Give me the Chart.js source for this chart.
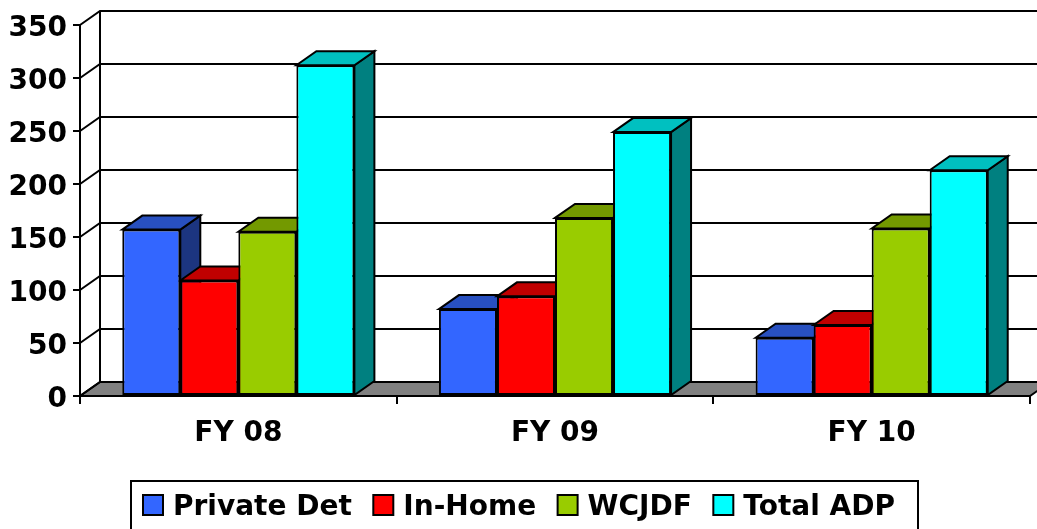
<!DOCTYPE html>
<html>
<head>
<meta charset="utf-8">
<script src="https://cdn.jsdelivr.net/npm/chart.js@4/dist/chart.umd.min.js"></script>
<style>
  html, body { margin: 0; padding: 0; background: #fff; }
  canvas { display: block; }
</style>
</head>
<body>
<canvas id="adp" width="1037" height="529"></canvas>
<script>
const categories = ["FY 08", "FY 09", "FY 10"]
const seriesNames = ["Private Det", "In-Home", "WCJDF", "Total ADP"]
const privateDet = [157, 82, 55]
const inHome = [109, 94, 67]
const wcjdf = [155, 168, 158]
const totalAdp = [312, 249, 213]
const yTicks = [0, 50, 100, 150, 200, 250, 300, 350]

// front / top / side shades for each series
const frontColors = ["#3366FF", "#FF0000", "#99CC00", "#00FFFF"]
const topColors = ["#2850C0", "#C00000", "#739900", "#00C0C0"]
const sideColors = ["#1C3580", "#800000", "#4D6600", "#008080"]

const FONT = "'DejaVu Sans', Verdana, sans-serif"
const depthX = 20
const depthY = 14

const poly = (ctx, pts, fill) => {
  ctx.beginPath()
  ctx.moveTo(pts[0][0], pts[0][1])
  pts.slice(1).forEach(([px, py]) => ctx.lineTo(px, py))
  ctx.closePath()
  if (fill) {
    ctx.fillStyle = fill
    ctx.fill()
  }
  ctx.stroke()
}

// walls, floor, gridlines and the top/side faces of each column
const box3d = {
  id: "box3d",
  beforeDatasetsDraw(chart) {
    const { ctx, chartArea: area } = chart
    const yScale = chart.scales.y
    const y0 = yScale.getPixelForValue(0)
    const yTop = yScale.getPixelForValue(yTicks[yTicks.length - 1])

    ctx.save()
    ctx.lineWidth = 2
    ctx.strokeStyle = "#000"

    poly(ctx, [
      [area.left, y0],
      [area.right, y0],
      [area.right + depthX, y0 - depthY],
      [area.left + depthX, y0 - depthY],
    ], "#808080")

    yTicks.forEach((v) => {
      const py = yScale.getPixelForValue(v)
      ctx.beginPath()
      ctx.moveTo(area.left, py)
      ctx.lineTo(area.left + depthX, py - depthY)
      if (v > 0) ctx.lineTo(chart.width + 5, py - depthY)
      ctx.stroke()
    })

    ctx.beginPath()
    ctx.moveTo(area.left + depthX, y0 - depthY)
    ctx.lineTo(area.left + depthX, yTop - depthY)
    ctx.stroke()

    categories.forEach((_, i) => {
      chart.data.datasets.forEach((ds, d) => {
        const bar = chart.getDatasetMeta(d).data[i]
        const { x, y, base, width } = bar.getProps(["x", "y", "base", "width"], true)
        const l = x - width / 2
        const r = x + width / 2
        poly(ctx, [
          [r, y],
          [r + depthX, y - depthY],
          [r + depthX, base - depthY],
          [r, base],
        ], sideColors[d])
        poly(ctx, [
          [l, y],
          [l + depthX, y - depthY],
          [r + depthX, y - depthY],
          [r, y],
        ], topColors[d])
      })
    })
    ctx.restore()
  },
}

// boxed legend under the axis, items spread across one row
const legendBox = {
  id: "legendBox",
  afterDraw(chart) {
    const { ctx } = chart
    const frame = { left: 131, top: 481, right: 918, bottom: 545 }
    const rowStart = 143
    const rowEnd = 895
    const swatch = 20
    const textGap = 10
    ctx.save()
    ctx.lineWidth = 2
    ctx.strokeStyle = "#000"
    ctx.strokeRect(frame.left, frame.top, frame.right - frame.left, frame.bottom - frame.top)

    ctx.font = `bold 28px ${FONT}`
    ctx.textBaseline = "alphabetic"
    ctx.textAlign = "left"
    const items = chart.data.datasets
    const widths = items.map((ds) => ctx.measureText(ds.label).width)
    const used = widths.reduce((a, b) => a + b, 0) + items.length * (swatch + textGap)
    const itemGap = (rowEnd - rowStart - used) / (items.length - 1)

    let x = rowStart
    items.forEach((ds, d) => {
      ctx.fillStyle = ds.backgroundColor
      ctx.fillRect(x, 495, swatch, swatch)
      ctx.strokeRect(x, 495, swatch, swatch)
      x += swatch + textGap
      ctx.fillStyle = "#000"
      ctx.fillText(ds.label, x, 515)
      x += widths[d] + itemGap
    })
    ctx.restore()
  },
}

const seriesValues = [privateDet, inHome, wcjdf, totalAdp]

new Chart(document.getElementById("adp"), {
  type: "bar",
  data: {
    labels: categories,
    datasets: seriesValues.map((values, d) => ({
      label: seriesNames[d],
      data: values,
      backgroundColor: frontColors[d],
      borderColor: "#000",
      borderWidth: 2,
      borderSkipped: false,
      categoryPercentage: 0.733,
      barPercentage: 1,
    })),
  },
  options: {
    responsive: false,
    animation: false,
    devicePixelRatio: 1,
    layout: { padding: { left: 0, top: 25, right: 7, bottom: 83 } },
    plugins: {
      legend: { display: false },
      tooltip: { enabled: false },
    },
    scales: {
      x: {
        grid: {
          offset: true,
          drawOnChartArea: false,
          tickLength: 8,
          color: "#000",
          lineWidth: 2,
        },
        border: { display: false },
        ticks: {
          color: "#000",
          font: { family: FONT, size: 28, weight: "bold" },
          padding: 13,
        },
        afterFit: (scale) => {
          scale.height = 50
        },
      },
      y: {
        min: 0,
        max: 350,
        grid: {
          drawOnChartArea: false,
          tickLength: 7,
          color: "#000",
          lineWidth: 2,
        },
        border: { display: true, color: "#000", width: 2 },
        ticks: {
          stepSize: 50,
          color: "#000",
          font: { family: FONT, size: 28, weight: "bold" },
          padding: 6,
          labelOffset: 4,
        },
        afterFit: (scale) => {
          scale.width = 80
        },
      },
    },
  },
  plugins: [box3d, legendBox],
})
</script>
</body>
</html>
